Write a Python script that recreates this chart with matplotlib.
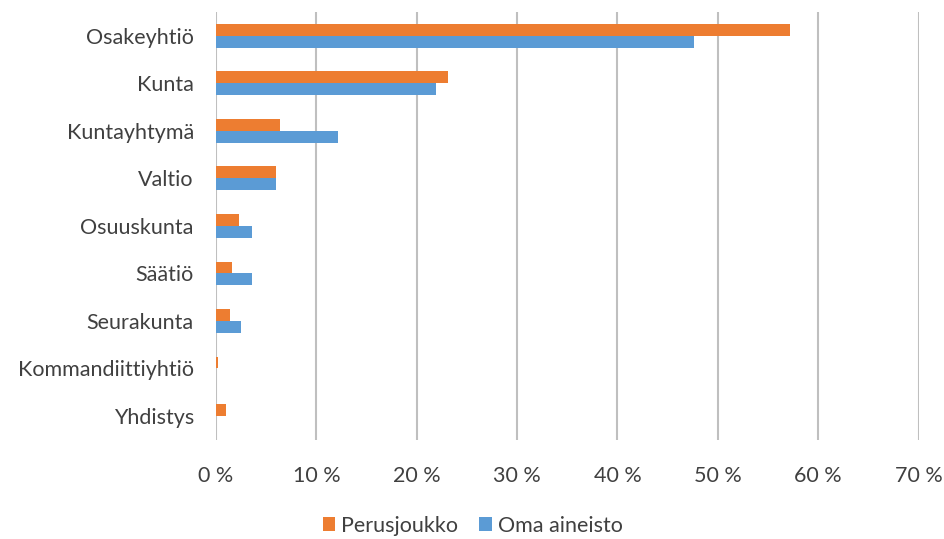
import numpy as np
import matplotlib
matplotlib.use("Agg")
import matplotlib.pyplot as plt
from matplotlib.ticker import FuncFormatter

plt.rcParams["font.family"] = ["Lato", "DejaVu Sans"]

categories = ["Osakeyhtiö", "Kunta", "Kuntayhtymä", "Valtio", "Osuuskunta",
              "Säätiö", "Seurakunta", "Kommandiittiyhtiö", "Yhdistys"]
perusjoukko = [57.2, 23.1, 6.4, 6.0, 2.3, 1.6, 1.4, 0.2, 1.0]
oma_aineisto = [47.6, 21.9, 12.2, 6.0, 3.6, 3.6, 2.5, 0.0, 0.0]
series_names = ["Perusjoukko", "Oma aineisto"]

ORANGE = "#ED7D31"
BLUE = "#5B9BD5"
TEXT = "#404040"

fig = plt.figure(figsize=(9.45, 5.39), dpi=100)
ax = fig.add_axes([0.2286, 0.184, 0.7434, 0.794])

y = np.arange(len(categories))
h = 0.25
ax.barh(y - h / 2, perusjoukko, height=h, color=ORANGE, label=series_names[0], zorder=3)
ax.barh(y + h / 2, oma_aineisto, height=h, color=BLUE, label=series_names[1], zorder=3)

ax.set_ylim(len(categories) - 0.5, -0.5)
ax.set_xlim(0, 70)
ax.set_xticks(np.arange(0, 71, 10))
ax.xaxis.set_major_formatter(FuncFormatter(lambda v, p: f"{v:.0f} %"))
ax.set_yticks(y)
ax.set_yticklabels(categories)

ax.grid(axis="x", color="#BFBFBF", lw=1.5, zorder=0)
for s in ax.spines.values():
    s.set_visible(False)
ax.tick_params(axis="both", length=0, labelsize=15.5, colors=TEXT)
ax.tick_params(axis="x", pad=19)
ax.tick_params(axis="y", pad=16)

fig.legend(loc="lower center", bbox_to_anchor=(0.5, -0.03), ncol=2, frameon=False,
           fontsize=15.5, handlelength=0.6, handleheight=0.6, handletextpad=0.25,
           columnspacing=1.0, labelcolor=TEXT)

fig.savefig("out.png", dpi=100)
